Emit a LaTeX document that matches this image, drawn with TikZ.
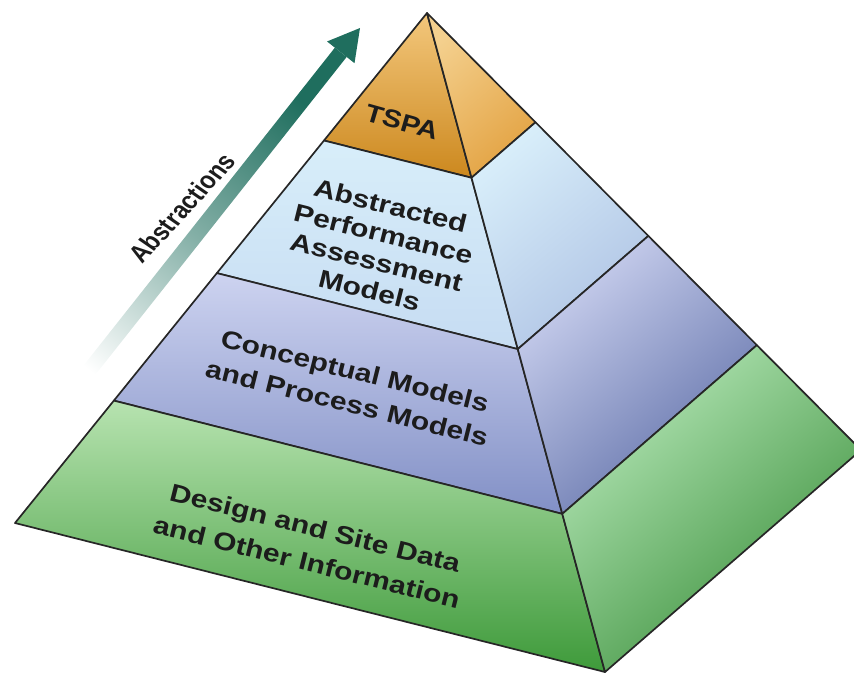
\documentclass[tikz,border=0pt]{standalone}
\usepackage{fontspec}
\setmainfont{Liberation Sans}
\usetikzlibrary{calc}
\definecolor{edgeink}{HTML}{262626}
\definecolor{textink}{HTML}{1C1C1C}
\definecolor{arrowteal}{HTML}{1F6E5E}
\definecolor{tspatop}{HTML}{F3C77C}
\definecolor{tspabot}{HTML}{CC881E}
\definecolor{tsparight}{HTML}{F4D08E}
\definecolor{tsparbot}{HTML}{E3A343}
\definecolor{aptop}{HTML}{D8EEFA}
\definecolor{apbot}{HTML}{C6DCF2}
\definecolor{aprbot}{HTML}{AFC3E4}
\definecolor{cmtop}{HTML}{CDD3F0}
\definecolor{cmbot}{HTML}{8290C6}
\definecolor{cmrbot}{HTML}{5F6FA8}
\definecolor{sitetop}{HTML}{B7E3B0}
\definecolor{sitebot}{HTML}{3E9A3A}
\definecolor{sitertop}{HTML}{B4E6B6}
\definecolor{siterbot}{HTML}{3A8F3A}
\tikzset{
  face/.style={draw=edgeink, line width=1.7pt, line join=round},
  rface/.style={face, shading angle=40},
  lbl/.style={font=\bfseries\fontsize{25}{29}\selectfont, text=textink, align=center,
              inner sep=0pt, rotate=-14, xscale=1.2},
}

\begin{document}
\begin{tikzpicture}[x=1pt,y=-1pt]
  \useasboundingbox (0,0) rectangle (854,675);
  \clip (0,0) rectangle (854,675);
  % pyramid corners
  \coordinate (apex) at (427,13);
  \coordinate (baseL) at (15,523);
  \coordinate (baseF) at (605,672);
  \coordinate (baseR) at (861,450);
  \foreach \n/\t in {1/0.25,2/0.51,3/0.76}{
    \coordinate (l\n) at ($(apex)!\t!(baseL)$);
    \coordinate (f\n) at ($(apex)!\t!(baseF)$);
    \coordinate (r\n) at ($(apex)!\t!(baseR)$);
  }
  % layers, left face then right face
  \shade[face, top color=tspatop, bottom color=tspabot] (apex) -- (l1) -- (f1) -- cycle;
  \shade[face, top color=tsparight, bottom color=tsparbot, shading angle=40] (apex) -- (f1) -- (r1) -- cycle;
  \shade[face, top color=aptop, bottom color=apbot] (l1) -- (l2) -- (f2) -- (f1) -- cycle;
  \shade[face, top color=aptop, bottom color=aprbot, shading angle=40] (f1) -- (f2) -- (r2) -- (r1) -- cycle;
  \shade[face, top color=cmtop, bottom color=cmbot] (l2) -- (l3) -- (f3) -- (f2) -- cycle;
  \shade[face, top color=cmtop, bottom color=cmrbot, shading angle=40] (f2) -- (f3) -- (r3) -- (r2) -- cycle;
  \shade[face, top color=sitetop, bottom color=sitebot] (l3) -- (baseL) -- (baseF) -- (f3) -- cycle;
  \shade[face, top color=sitertop, bottom color=siterbot, shading angle=40] (f3) -- (baseF) -- (baseR) -- (r3) -- cycle;

  % abstraction arrow
  \coordinate (tip) at (360,28);
  \coordinate (tail) at (50,420);
  \coordinate (neck) at ($(tip)!31pt!(tail)$);
  \shade[top color=arrowteal, bottom color=white, middle color=arrowteal!55!white, shading angle=-38.4]
    ($(tail)!7.5pt!90:(tip)$) -- ($(tail)!7.5pt!-90:(tip)$)
    -- ($(neck)!7.5pt!90:(tail)$) -- ($(neck)!7.5pt!-90:(tail)$) -- cycle;
  \fill[arrowteal] (tip) -- ($(neck)!17.5pt!90:(tip)$) -- ($(neck)!17.5pt!-90:(tip)$) -- cycle;
  \node[lbl, font=\bfseries\fontsize{23}{27}\selectfont, rotate=65.6, xscale=1.15/1.2] (abstr) at (182,208) {Abstractions};

  % layer labels
  \node[lbl, rotate=-2, xscale=1.15/1.2] (tspa) at (402,122) {TSPA};
  \node[lbl] (apmodels) at (380,248) {Abstracted\\Performance\\Assessment\\Models};
  \node[lbl, font=\bfseries\fontsize{25}{33}\selectfont] (cpmodels) at (351,387) {Conceptual Models\\and Process Models};
  \node[lbl, font=\bfseries\fontsize{25}{35}\selectfont] (sitedata) at (311,545) {Design and Site Data\\and Other Information};
\end{tikzpicture}
\end{document}
